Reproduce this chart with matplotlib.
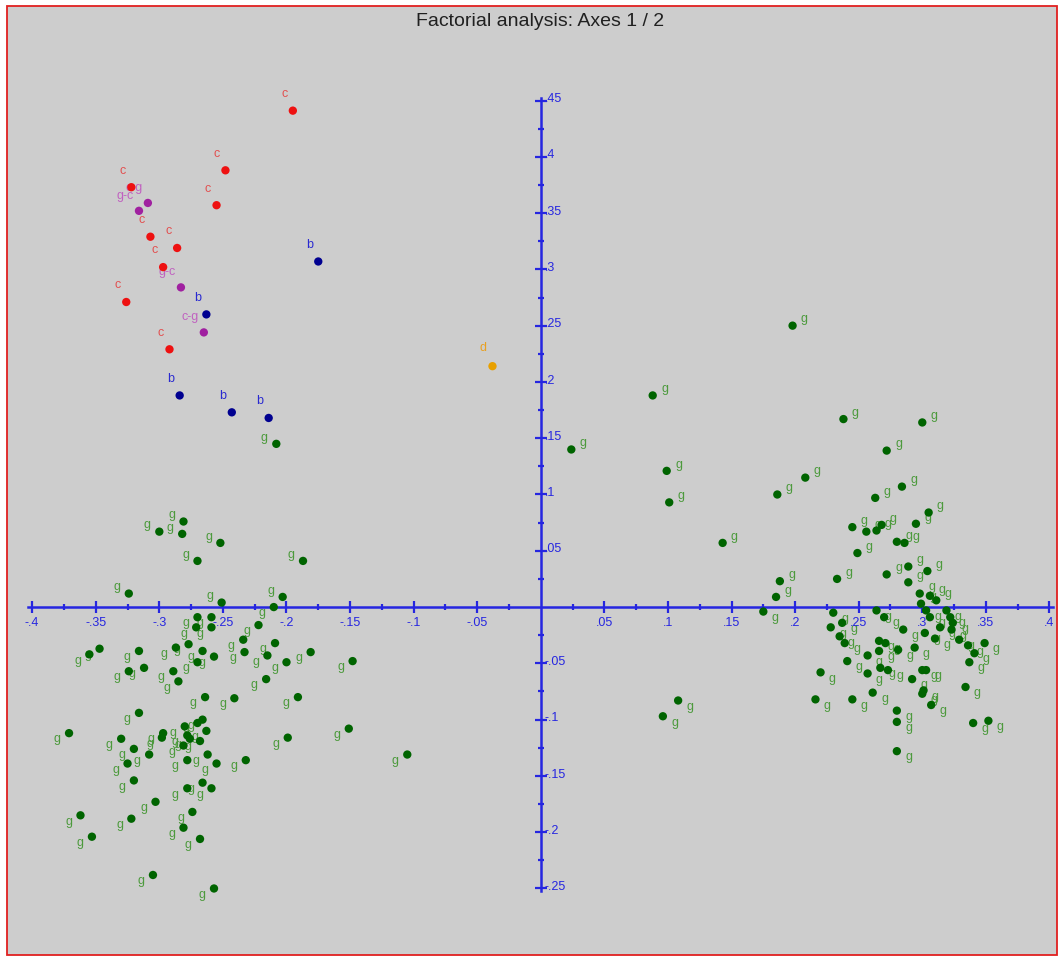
import matplotlib
matplotlib.use('Agg')
import matplotlib.pyplot as plt
from matplotlib.patches import Rectangle

# group "c" (red)
c_x = [-0.195, -0.248, -0.255, -0.322, -0.307, -0.286, -0.297, -0.326, -0.292]
c_y = [0.441, 0.388, 0.357, 0.373, 0.329, 0.319, 0.302, 0.271, 0.229]

# mixed groups (purple)
cg_x = [-0.309, -0.316, -0.283, -0.265]
cg_y = [0.359, 0.352, 0.284, 0.244]
cg_labels = ['c-g', 'g-c', 'g-c', 'c-g']

# group "b" (blue)
b_x = [-0.175, -0.263, -0.284, -0.243, -0.214]
b_y = [0.307, 0.260, 0.188, 0.173, 0.168]

# group "d" (orange)
d_x = [-0.038]
d_y = [0.214]

# group "g" (green)
g_x = [0.198, 0.088, 0.024, 0.099, 0.101, 0.143, 0.186, 0.208, 0.188, 0.185, 0.175, 0.108, 0.096, -0.105, -0.208,
       0.238, 0.272, 0.300, 0.263, 0.284, 0.245, 0.256, 0.268, 0.264, 0.280, 0.286, 0.249, 0.233, 0.272, 0.305,
       0.295, 0.289, 0.289, 0.304, 0.298, 0.306, 0.311,
       0.230, 0.228, 0.237, 0.235, 0.239, 0.241, 0.220, 0.216, 0.245, 0.257, 0.257, 0.261, 0.264, 0.270, 0.266,
       0.271, 0.266, 0.267, 0.273, 0.280, 0.280, 0.280, 0.349, 0.334, 0.340, 0.352, 0.292, 0.300, 0.301, 0.307,
       0.300, 0.303, 0.294, 0.281, 0.285, 0.302, 0.310, 0.323, 0.329, 0.336, 0.337, 0.341, 0.299, 0.303, 0.306,
       0.319, 0.322, 0.314, 0.324,
       -0.281, -0.300, -0.282, -0.270, -0.252, -0.187, -0.324, -0.203, -0.251, -0.210,
       -0.270, -0.271, -0.347, -0.355, -0.316, -0.312, -0.287, -0.277, -0.289, -0.270, -0.266, -0.285, -0.324,
       -0.259, -0.259, -0.222, -0.234, -0.209, -0.257, -0.233, -0.215, -0.200, -0.181, -0.148, -0.216, -0.191,
       -0.241, -0.264, -0.316, -0.371, -0.330, -0.320, -0.308, -0.325, -0.297, -0.298, -0.266, -0.270, -0.280,
       -0.278, -0.276, -0.281, -0.263, -0.320, -0.278, -0.262, -0.266, -0.278, -0.303, -0.322, -0.362, -0.353,
       -0.274, -0.281, -0.268, -0.305, -0.199, -0.151, -0.232, -0.255, -0.259, -0.257, -0.268]
g_y = [0.250, 0.188, 0.140, 0.121, 0.093, 0.057, 0.100, 0.115, 0.023, 0.009, -0.004, -0.083, -0.097, -0.131, 0.145,
       0.167, 0.139, 0.164, 0.097, 0.107, 0.071, 0.067, 0.073, 0.068, 0.058, 0.057, 0.048, 0.025, 0.029, 0.084,
       0.074, 0.036, 0.022, 0.032, 0.012, 0.010, 0.006,
       -0.005, -0.018, -0.014, -0.026, -0.032, -0.048, -0.058, -0.082, -0.082, -0.043, -0.059, -0.076, -0.003,
       -0.009, -0.030, -0.032, -0.039, -0.054, -0.056, -0.092, -0.102, -0.128, -0.032, -0.071, -0.103, -0.101,
       -0.064, -0.077, -0.074, -0.087, -0.056, -0.056, -0.036, -0.038, -0.020, -0.023, -0.028, -0.020, -0.029,
       -0.034, -0.049, -0.041, 0.003, -0.003, -0.009, -0.003, -0.009, -0.018, -0.014,
       0.076, 0.067, 0.065, 0.041, 0.057, 0.041, 0.012, 0.009, 0.004, 0.000,
       -0.009, -0.018, -0.037, -0.042, -0.039, -0.054, -0.036, -0.033, -0.057, -0.049, -0.039, -0.066, -0.057,
       -0.009, -0.018, -0.016, -0.029, -0.032, -0.044, -0.040, -0.043, -0.049, -0.040, -0.048, -0.064, -0.080,
       -0.081, -0.080, -0.094, -0.112, -0.117, -0.126, -0.131, -0.139, -0.112, -0.116, -0.100, -0.103, -0.106,
       -0.114, -0.117, -0.123, -0.110, -0.154, -0.136, -0.131, -0.156, -0.161, -0.173, -0.188, -0.185, -0.204,
       -0.182, -0.196, -0.206, -0.238, -0.116, -0.108, -0.136, -0.139, -0.161, -0.250, -0.119]

# axis ticks
x_ticks = [-0.4, -0.35, -0.3, -0.25, -0.2, -0.15, -0.1, -0.05, 0.05, 0.1, 0.15, 0.2, 0.25, 0.3, 0.35, 0.4]
x_labels = ['-.4', '-.35', '-.3', '-.25', '-.2', '-.15', '-.1', '-.05', '.05', '.1', '.15', '.2', '.25', '.3', '.35', '.4']
y_ticks = [-0.25, -0.2, -0.15, -0.1, -0.05, 0.05, 0.1, 0.15, 0.2, 0.25, 0.3, 0.35, 0.4, 0.45]
y_labels = ['-.25', '-.2', '-.15', '-.1', '-.05', '.05', '.1', '.15', '.2', '.25', '.3', '.35', '.4', '.45']
x_minor = [-0.375, -0.325, -0.275, -0.225, -0.175, -0.125, -0.075, -0.025,
           0.025, 0.075, 0.125, 0.175, 0.225, 0.275, 0.325, 0.375]
y_minor = [-0.225, -0.175, -0.125, -0.075, -0.025, 0.025, 0.075, 0.125, 0.175, 0.225, 0.275, 0.325, 0.375, 0.425]

blue = '#2626e0'
plt.rcParams['font.family'] = ['Liberation Sans', 'DejaVu Sans']

fig = plt.figure(figsize=(10.64, 9.58), dpi=100)
fig.patch.set_facecolor('white')
# grey panel with red frame, kept behind the axes
fig.patches.append(Rectangle((7 / 1064, 3 / 958), 1050 / 1064, 949 / 958, transform=fig.transFigure,
                             facecolor='#cdcdcd', edgecolor='#e02020', lw=1.3, zorder=-5))
fig.text(0.508, 0.978, 'Factorial analysis: Axes 1 / 2', ha='center', va='center', fontsize=14, color='#202020')

ax = fig.add_axes([25.8 / 1064, 1 - 911 / 958, 1030 / 1064, 833 / 958])
ax.set_zorder(2)
ax.set_xlim(-0.405, 0.405)
ax.set_ylim(-0.27, 0.47)
ax.axis('off')

# axes through the origin
ax.plot([-0.403, 0.403], [0, 0], color=blue, lw=1.8, zorder=1)
ax.plot([0, 0], [-0.252, 0.452], color=blue, lw=1.8, zorder=1)
ax.plot(x_ticks, [0] * len(x_ticks), '|', color=blue, ms=9, mew=1.6, zorder=1)
ax.plot(x_minor, [0] * len(x_minor), '|', color=blue, ms=4, mew=1.6, zorder=1)
ax.plot([0] * len(y_ticks), y_ticks, '_', color=blue, ms=9, mew=1.6, zorder=1)
ax.plot([0] * len(y_minor), y_minor, '_', color=blue, ms=4, mew=1.6, zorder=1)
for v, lab in zip(x_ticks, x_labels):
    ax.annotate(lab, (v, 0), xytext=(0, -7), textcoords='offset points', ha='center', va='top',
                fontsize=9, color=blue)
for v, lab in zip(y_ticks, y_labels):
    ax.annotate(lab, (0, v), xytext=(3, 1), textcoords='offset points', ha='left', va='center',
                fontsize=9, color=blue)


def draw_group(xs, ys, labels, dot_col, txt_col, dx, dy):
    ax.scatter(xs, ys, s=36, color=dot_col, edgecolors='none', zorder=3)
    for x, y, lab in zip(xs, ys, labels):
        sx = 1 if x > 0 else -1
        sy = 1 if y > 0 else -1
        ax.annotate(lab, (x, y), xytext=(sx * dx, sy * dy), textcoords='offset points',
                    ha='left' if sx > 0 else 'right', va='center', fontsize=9, color=txt_col, zorder=2)


draw_group(g_x, g_y, ['g'] * len(g_x), '#006400', '#4c9a3c', 6, 4.5)
draw_group(c_x, c_y, ['c'] * len(c_x), '#ee1111', '#e25050', 4, 12)
draw_group(cg_x, cg_y, cg_labels, '#a020a0', '#c062c0', 4, 11)
draw_group(b_x, b_y, ['b'] * len(b_x), '#000090', '#2a2ad0', 4, 12)
draw_group(d_x, d_y, ['d'], '#e8a000', '#e8a020', 4, 13)

fig.savefig('out.png', dpi=100)
